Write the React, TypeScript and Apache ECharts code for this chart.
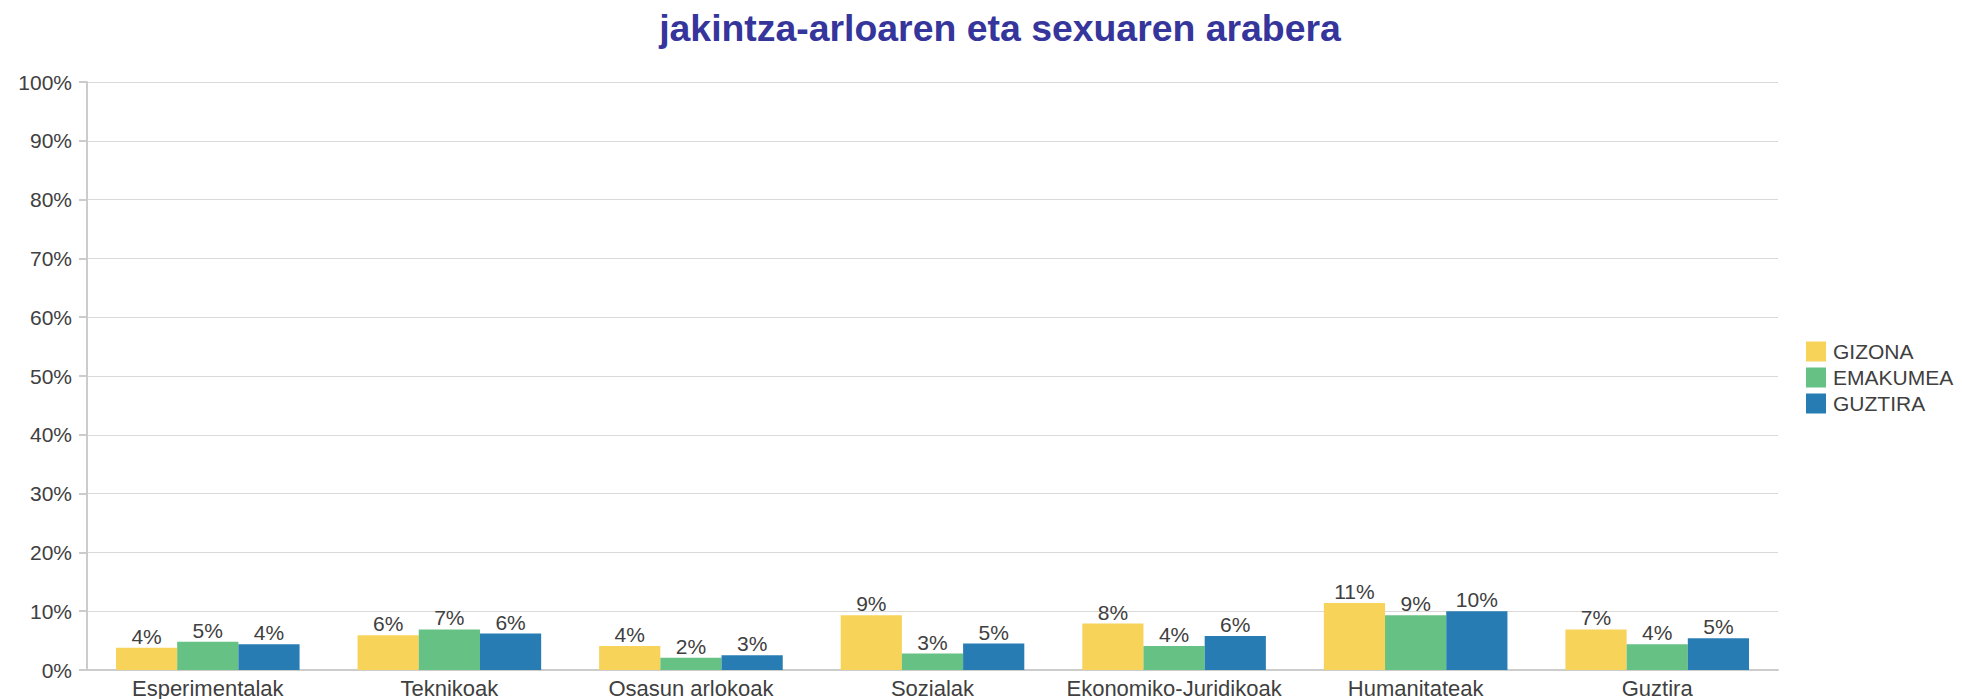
import React, { useEffect, useRef } from "react";
import * as echarts from "echarts";

const categories = [
  "Esperimentalak",
  "Teknikoak",
  "Osasun arlokoak",
  "Sozialak",
  "Ekonomiko-Juridikoak",
  "Humanitateak",
  "Guztira",
];
const gizona = [3.8, 5.9, 4.1, 9.3, 7.9, 11.4, 6.9];
const emakumea = [4.8, 6.9, 2.1, 2.8, 4.1, 9.3, 4.4];
const guztira = [4.4, 6.2, 2.5, 4.5, 5.8, 10.0, 5.4];
const seriesNames = ["GIZONA", "EMAKUMEA", "GUZTIRA"];
const colors = ["#F7D35A", "#66C184", "#277CB3"];
const yTicks = { min: 0, max: 100, interval: 10 };

const FONT = "'Liberation Sans', Arial, sans-serif";

export default function App() {
  const ref = useRef<HTMLDivElement>(null);
  useEffect(() => {
    document.body.style.margin = "0";
    const chart = echarts.init(ref.current!, null, { renderer: "svg" });
    const data = [gizona, emakumea, guztira];
    chart.setOption({
      animation: false,
      textStyle: { fontFamily: FONT },
      title: {
        text: "jakintza-arloaren eta sexuaren arabera",
        left: 995,
        textAlign: "center",
        top: 4,
        textStyle: {
          fontFamily: FONT,
          fontSize: 37.4,
          fontWeight: "bold",
          color: "#35359B",
        },
      },
      legend: {
        orient: "vertical",
        left: 1801,
        top: 336,
        itemWidth: 20,
        itemHeight: 20,
        itemGap: 5,
        icon: "rect",
        data: seriesNames,
        textStyle: {
          fontFamily: FONT,
          fontSize: 21,
          lineHeight: 20,
          color: "#404040",
          padding: [0, 0, 0, 2],
        },
      },
      grid: { left: 87, right: 184, top: 82, bottom: 27, containLabel: false },
      xAxis: {
        type: "category",
        data: categories,
        axisTick: { show: false },
        axisLine: { show: true, lineStyle: { color: "#cccccc", width: 2 } },
        axisLabel: { fontFamily: FONT, fontSize: 22, color: "#404040", margin: 7, interval: 0 },
      },
      yAxis: {
        type: "value",
        min: yTicks.min,
        max: yTicks.max,
        interval: yTicks.interval,
        axisLine: { show: true, lineStyle: { color: "#cccccc", width: 2 } },
        axisTick: { show: true, length: 8, lineStyle: { color: "#cccccc", width: 2 } },
        splitLine: { show: true, lineStyle: { color: "#d9d9d9", width: 1 } },
        axisLabel: {
          fontFamily: FONT,
          fontSize: 21,
          color: "#404040",
          margin: 15,
          formatter: "{value}%",
        },
      },
      series: seriesNames.map((name, i) => ({
        name,
        type: "bar",
        data: data[i],
        barGap: "0%",
        barCategoryGap: "24%",
        itemStyle: { color: colors[i] },
        label: {
          show: true,
          position: "top",
          distance: 1,
          fontFamily: FONT,
          fontSize: 21,
          color: "#404040",
          formatter: (p: any) => Math.round(p.value) + "%",
        },
      })),
    });
    return () => chart.dispose();
  }, []);
  return <div ref={ref} style={{ width: 1962, height: 699 }} />;
}
